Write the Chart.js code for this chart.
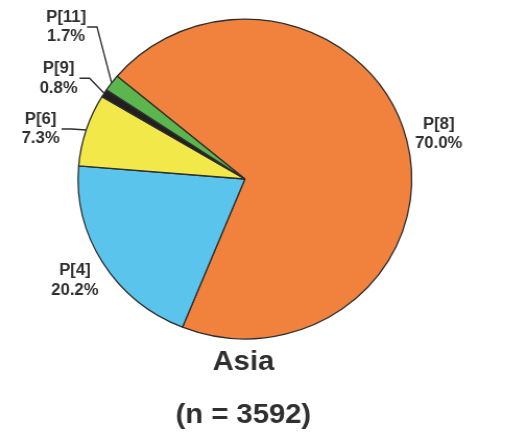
<!DOCTYPE html>
<html>
<head>
<meta charset="utf-8">
<script src="https://cdn.jsdelivr.net/npm/chart.js@4"></script>
<style>
  html, body { margin: 0; padding: 0; background: #ffffff; overflow: hidden; }
  #wrap { position: absolute; left: 0; top: 0; width: 487px; height: 432px;
          transform: scaleX(1.0436); transform-origin: 0 0; }
</style>
</head>
<body>
<div id="wrap"><canvas id="c" width="487" height="432"></canvas></div>
<script>
// Share of each P-type in the Asian sample
const categories = ['P[8]', 'P[4]', 'P[6]', 'P[9]', 'P[11]'];
const shares = [70.0, 20.2, 7.3, 0.8, 1.7];
const sliceColors = ['#F0823D', '#5BC4EC', '#F3E84A', '#231F20', '#5BB64E'];
const regionName = 'Asia';
const sampleSize = 3592;

// Narrow slices get a leader line; the value is the vertical rise of its elbow.
const calloutRise = [null, null, -1, -15, -56];

const inkColor = '#2f2f2f';
const labelFont = 'bold 16px "Liberation Sans", Arial, sans-serif';
const titleFont = 'bold 28px "Liberation Sans", Arial, sans-serif';

const sliceLabels = {
  id: 'sliceLabels',
  afterDatasetsDraw(chart) {
    const ctx = chart.ctx;
    const meta = chart.getDatasetMeta(0);
    ctx.save();
    ctx.font = labelFont;
    ctx.fillStyle = inkColor;
    ctx.strokeStyle = inkColor;
    ctx.lineWidth = 1.4;
    ctx.textAlign = 'center';
    ctx.textBaseline = 'alphabetic';
    let cx = 0, cy = 0, rim = 0;
    meta.data.forEach((arc, i) => {
      const p = arc.getProps(['x', 'y', 'startAngle', 'endAngle', 'outerRadius'], true);
      cx = p.x; cy = p.y; rim = p.outerRadius;
      const mid = (p.startAngle + p.endAngle) / 2;
      const ux = Math.cos(mid), uy = Math.sin(mid);
      let tx, ty;
      if (calloutRise[i] === null) {
        const r = p.outerRadius + 31.5;
        tx = p.x + ux * r;
        ty = p.y + uy * r;
      } else {
        const ex = p.x + ux * p.outerRadius;
        const ey = p.y + uy * p.outerRadius;
        const bx = ex - 14;
        const by = ey + calloutRise[i];
        const hx = bx - 9.6;
        ctx.beginPath();
        ctx.moveTo(ex, ey);
        ctx.lineTo(bx, by);
        ctx.lineTo(hx, by);
        ctx.stroke();
        tx = hx - 20;
        ty = by - 1;
      }
      ctx.fillText(categories[i], tx, ty - 3.9);
      ctx.fillText(shares[i].toFixed(1) + '%', tx, ty + 15.5);
    });

    // Region name and sample size under the pie
    ctx.font = titleFont;
    ctx.fillText(regionName, cx - 1.5, cy + rim + 31.5);
    ctx.fillText('(n = ' + sampleSize + ')', cx - 1.5, cy + rim + 84);
    ctx.restore();
  }
};

new Chart(document.getElementById('c'), {
  type: 'pie',
  data: {
    labels: categories,
    datasets: [{
      data: shares,
      backgroundColor: sliceColors,
      borderColor: '#2e2e2e',
      borderWidth: 1.3
    }]
  },
  options: {
    responsive: false,
    animation: false,
    rotation: -50,
    layout: { padding: { left: 74.2, right: 91.8, top: 18.5, bottom: 92.5 } },
    plugins: {
      legend: { display: false },
      tooltip: { enabled: false }
    }
  },
  plugins: [sliceLabels]
});
</script>
</body>
</html>
